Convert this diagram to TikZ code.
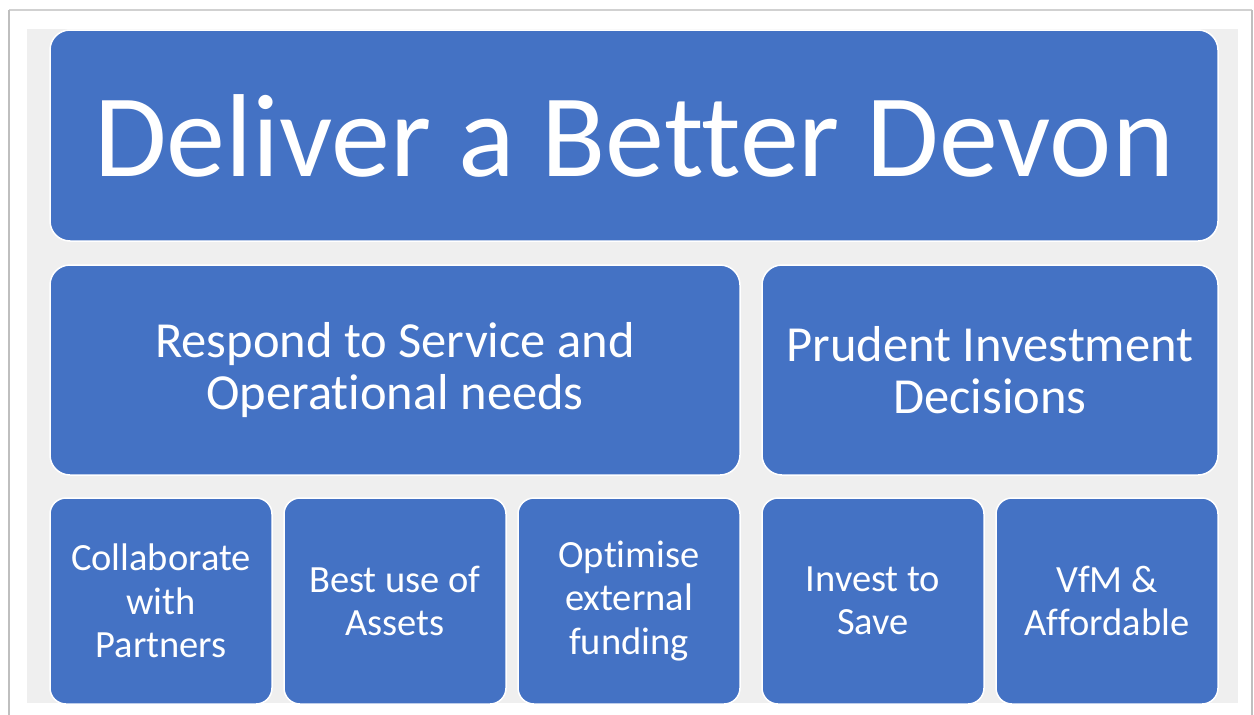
\documentclass[tikz,border=0pt]{standalone}
\usepackage{fontspec}
\setmainfont{Carlito}[Ligatures=NoCommon]
\definecolor{boxblue}{HTML}{4472C4}
\definecolor{bggray}{HTML}{EFEFEF}
\begin{document}
\begin{tikzpicture}[x=1pt,y=-1pt,
  box/.style={draw=white,line width=1.5pt,fill=boxblue,text=white,align=center,inner sep=0pt},
  big/.style={box,rounded corners=20pt},
  small/.style={box,rounded corners=16pt,minimum width=222pt,minimum height=206pt,font=\fontsize{38.5}{43.5}\selectfont}]
\useasboundingbox (0,0) rectangle (1254,715);
\fill[white] (0,0) rectangle (1254,715);
\draw[black!18,line width=2pt] (9,10) -- (1252,10);
\draw[black!25,line width=2pt] (9,10) -- (9,715);
\draw[black!25,line width=2pt] (1252,10) -- (1252,715);
\fill[bggray] (27,29) rectangle (1238,703);
\begin{scope}
\clip (0,0) rectangle (1254,703);
\node[big,minimum width=1168pt,minimum height=211pt,font=\fontsize{118}{130}\selectfont] (title) at (634,135.5) {Deliver a Better Devon};
\node[big,minimum width=690pt,minimum height=210pt,font=\fontsize{50.5}{52}\selectfont] (respond) at (395,370) {Respond to Service and\\Operational needs};
\node[big,minimum width=456pt,minimum height=210pt,font=\fontsize{50.5}{52}\selectfont] (prudent) at (990,370) {Prudent Investment\\Decisions};
\node[small] (collab) at (161,601) {Collaborate\\with\\Partners};
\node[small] (assets) at (395,601) {Best use of\\Assets};
\node[small] (funding) at (629,601) {Optimise\\external\\funding};
\node[small] (invest) at (873,601) {Invest to\\Save};
\node[small] (vfm) at (1107,601) {VfM \&\\Affordable};
\end{scope}
\end{tikzpicture}
\end{document}
